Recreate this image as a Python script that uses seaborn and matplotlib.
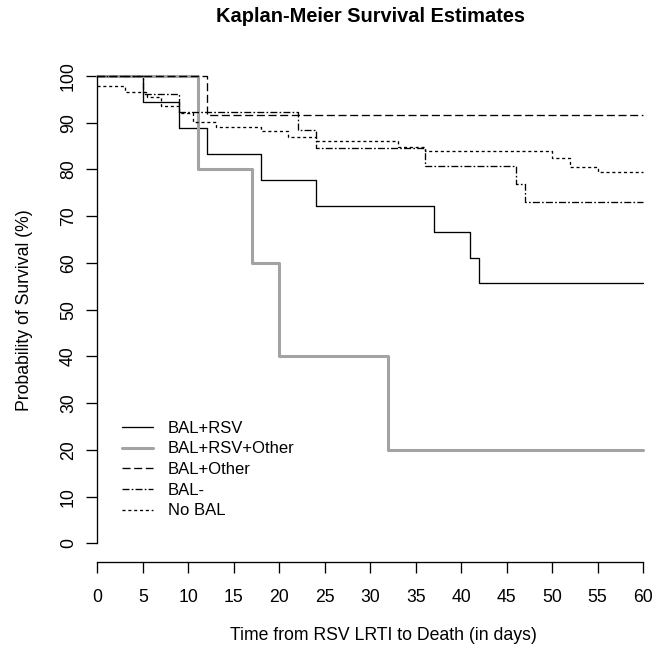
import matplotlib
matplotlib.use("Agg")
import matplotlib.pyplot as plt
import seaborn as sns
import pandas as pd

# Kaplan-Meier step estimates (time in days, survival in %)
bal_rsv_t = [0, 5, 9, 12, 18, 24, 37, 41, 42, 60]
bal_rsv_s = [100, 94.4, 88.9, 83.3, 77.8, 72.2, 66.7, 61.1, 55.6, 55.6]

bal_rsv_other_t = [0, 11, 17, 20, 32, 60]
bal_rsv_other_s = [100, 80, 60, 40, 20, 20]

bal_other_t = [0, 12, 60]
bal_other_s = [100, 91.7, 91.7]

bal_neg_t = [0, 5, 9, 22, 24, 36, 46, 47, 60]
bal_neg_s = [100, 96.2, 92.3, 88.5, 84.6, 80.8, 76.9, 73.1, 73.1]

no_bal_t = [0, 3, 5.5, 7, 9, 10.5, 13, 18, 21, 24, 33, 36, 50, 52, 55, 60]
no_bal_s = [97.9, 96.6, 95.5, 93.6, 92.0, 90.1, 89.1, 88.2, 87.0, 86.0, 84.9,
            83.9, 82.4, 80.6, 79.5, 79.5]

groups = ["BAL+RSV", "BAL+RSV+Other", "BAL+Other", "BAL-", "No BAL"]
x_ticks = list(range(0, 61, 5))
y_ticks = list(range(0, 101, 10))

sns.set_style("ticks")
plt.rcParams["font.family"] = ["Liberation Sans", "DejaVu Sans"]
plt.rcParams["lines.scale_dashes"] = False
plt.rcParams["text.color"] = "black"

series = [
    (bal_rsv_t, bal_rsv_s, dict(color="black", lw=0.95, ls="-")),
    (bal_rsv_other_t, bal_rsv_other_s, dict(color="#a3a3a3", lw=2.2, ls="-")),
    (bal_other_t, bal_other_s, dict(color="black", lw=0.95, ls=(0, (5.8, 2.6)))),
    (bal_neg_t, bal_neg_s, dict(color="black", lw=0.95, ls=(0, (5.0, 1.6, 1.2, 1.6)))),
    (no_bal_t, no_bal_s, dict(color="black", lw=0.95, ls=(0, (2.2, 2.0)))),
]

fig = plt.figure(figsize=(6.65, 6.48), dpi=100)
ax = fig.add_axes([0.1466, 0.1327, 0.8204, 0.7789])

for name, (t, s, style) in zip(groups, series):
    df = pd.DataFrame({"time": t, "surv": s})
    sns.lineplot(data=df, x="time", y="surv", ax=ax, estimator=None, sort=False,
                 drawstyle="steps-post", label=name, clip_on=False, **style)

ax.set_xlim(0, 60)
ax.set_ylim(-4, 104)
ax.set_xticks(x_ticks)
ax.set_yticks(y_ticks)
ax.set_yticklabels([str(v) for v in y_ticks], rotation=90, va="center")
ax.set_xlabel("")
ax.set_ylabel("")

for side in ["top", "right"]:
    ax.spines[side].set_visible(False)
ax.spines["left"].set_bounds(0, 100)
ax.spines["bottom"].set_bounds(0, 60)
for side in ["left", "bottom"]:
    ax.spines[side].set_linewidth(0.95)
    ax.spines[side].set_color("black")

ax.tick_params(axis="both", length=7.9, width=0.95, color="black",
               labelsize=12.7, labelcolor="black")
ax.tick_params(axis="y", pad=6.8)
ax.tick_params(axis="x", pad=11.8)

leg = ax.legend(loc="upper left", bbox_to_anchor=(0.183, 0.3508),
                bbox_transform=fig.transFigure, frameon=False, fontsize=12,
                borderpad=0, borderaxespad=0, handlelength=1.9,
                handletextpad=0.88, labelspacing=0.34)
for txt in leg.get_texts():
    txt.set_color("black")

fig.text(370 / 665, 1 - 16 / 648, "Kaplan-Meier Survival Estimates",
         ha="center", va="center", fontsize=14.4, fontweight="bold")
fig.text(383 / 665, 1 - 635 / 648, "Time from RSV LRTI to Death (in days)",
         ha="center", va="center", fontsize=12.7)
fig.text(25 / 665, 1 - 310 / 648, "Probability of Survival (%)",
         ha="center", va="center", rotation=90, fontsize=12.7)

fig.savefig("out.png", dpi=100, facecolor="white")
